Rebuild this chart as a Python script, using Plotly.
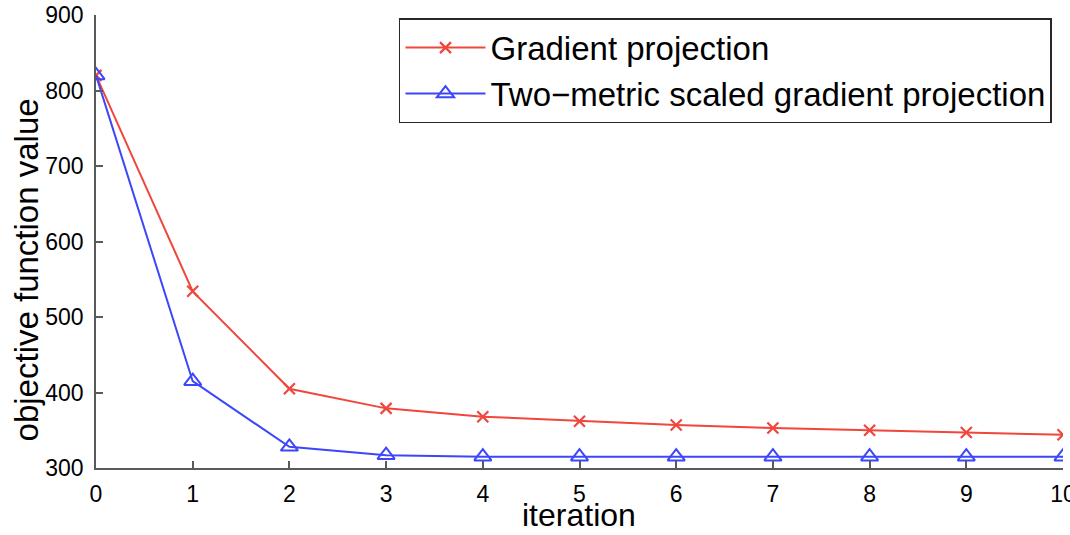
import plotly.graph_objects as go

# Objective value per iteration for the two projection methods
iterations = [0, 1, 2, 3, 4, 5, 6, 7, 8, 9, 10]
gradient_projection = [820, 534, 405, 379, 368, 362, 357, 353, 350, 347, 344]
two_metric_projection = [820, 415, 328, 317, 315, 315, 315, 315, 315, 315, 315]

x_ticks = [0, 1, 2, 3, 4, 5, 6, 7, 8, 9, 10]
y_ticks = [300, 400, 500, 600, 700, 800, 900]

FONT = "Liberation Sans, Arial, Helvetica, sans-serif"
RED = "rgb(240,70,60)"
BLUE = "rgb(60,70,250)"
AXIS = "rgb(90,90,90)"

fig = go.Figure()
fig.add_trace(go.Scatter(
    x=iterations, y=gradient_projection, mode="lines+markers",
    name="Gradient projection",
    line=dict(color=RED, width=2),
    marker=dict(symbol="x-thin-open", size=11, line=dict(color=RED, width=2.2)),
))
fig.add_trace(go.Scatter(
    x=iterations, y=two_metric_projection, mode="lines+markers",
    name="Two\u2212metric scaled gradient projection",
    line=dict(color=BLUE, width=2),
    marker=dict(symbol="triangle-up-open", size=15, line=dict(color=BLUE, width=2)),
))

fig.update_layout(
    width=1070, height=535,
    margin=dict(l=96, r=7, t=15, b=67, autoexpand=False),
    paper_bgcolor="white", plot_bgcolor="white",
    font=dict(family=FONT, color="black", size=23),
    showlegend=True,
    legend=dict(
        x=0.9886, y=0.993, xanchor="right", yanchor="top",
        bgcolor="white", bordercolor="rgb(40,40,40)", borderwidth=1.5,
        font=dict(family=FONT, size=33, color="black"),
        itemwidth=80, tracegroupgap=0,
    ),
    xaxis=dict(
        range=[0, 10], tickvals=x_ticks, ticktext=[str(v) for v in x_ticks],
        showgrid=False, zeroline=False, automargin=False,
        showline=True, linecolor=AXIS, linewidth=1.5, mirror=False,
        ticks="inside", ticklen=7, tickwidth=1.5, tickcolor=AXIS,
        tickfont=dict(size=23), ticklabelstandoff=5,
        ticklabeloverflow="allow",
    ),
    yaxis=dict(
        range=[300, 900], tickvals=y_ticks, ticktext=[str(v) for v in y_ticks],
        showgrid=False, zeroline=False, automargin=False,
        showline=True, linecolor=AXIS, linewidth=1.5, mirror=False,
        ticks="inside", ticklen=7, tickwidth=1.5, tickcolor=AXIS,
        tickfont=dict(size=23), ticklabelstandoff=6,
    ),
    annotations=[
        dict(
            text="objective function value", textangle=-90,
            xref="paper", yref="paper", x=-0.072, y=0.437,
            xanchor="center", yanchor="middle", showarrow=False,
            font=dict(family=FONT, size=33, color="black"),
        ),
        dict(
            text="iteration",
            xref="paper", yref="paper", x=0.4995, y=-0.146,
            xanchor="center", yanchor="bottom", showarrow=False,
            borderpad=0,
            font=dict(family=FONT, size=32, color="black"),
        ),
    ],
)

fig.write_html("out.html")
